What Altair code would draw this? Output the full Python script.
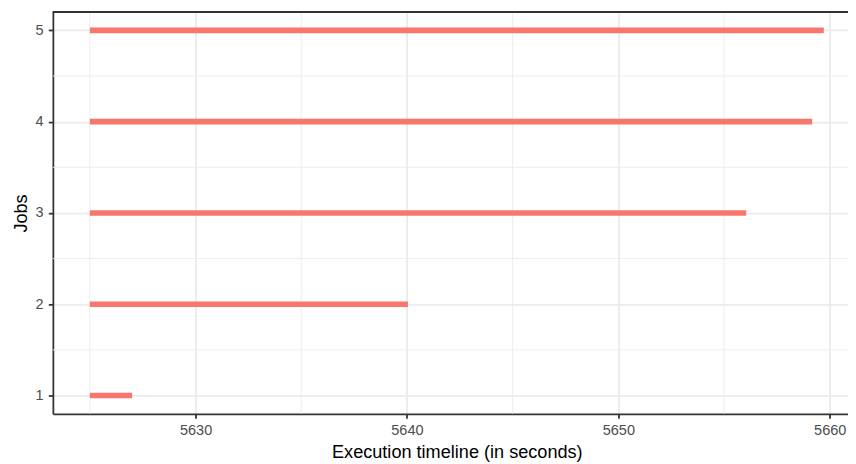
import altair as alt
import pandas as pd

# ---- data ----
jobs = [1, 2, 3, 4, 5]
start = [5625.0, 5625.0, 5625.0, 5625.0, 5625.0]
end = [5627.0, 5640.05, 5656.05, 5659.17, 5659.72]

x_ticks = [5630, 5640, 5650, 5660]
x_minor = [5625, 5635, 5645, 5655]
y_ticks = [1, 2, 3, 4, 5]
y_minor = [1.5, 2.5, 3.5, 4.5]

XDOM = [5623.25, 5661.47]
YDOM = [0.8, 5.2]
XRANGE = 815.6          # full panel width (panel runs past the picture's right edge)
LEFT = 45.3
W = 848 - LEFT          # visible part of the panel
H = 405.5

FONT = "Liberation Sans"
GRID = "#EBEBEB"
DARK = "#333333"

df = pd.DataFrame({"job": jobs, "start": start, "end": end})
dfx = pd.DataFrame({"v": x_minor})
dfy = pd.DataFrame({"v": y_minor})

xs = alt.Scale(domain=XDOM, nice=False, zero=False, range=[0, XRANGE])
ys = alt.Scale(domain=YDOM, nice=False, zero=False)

xaxis = alt.Axis(
    values=x_ticks, format="d", grid=True, gridColor=GRID, gridWidth=1.78,
    domain=True, domainColor=DARK, domainWidth=1.78,
    ticks=True, tickColor=DARK, tickWidth=1.78, tickSize=4.6,
    labelFont=FONT, labelFontSize=14.67, labelColor="#4D4D4D",
    labelBaseline="alphabetic", labelPadding=15.9, labelFlush=False,
    labelOverlap=False,
    title="Execution timeline (in seconds)", titleFont=FONT, titleFontSize=18.3,
    titleFontWeight="normal", titleColor="black", titleX=XRANGE / 2, titleY=43.8,
    titleBaseline="alphabetic", titleAlign="center",
)
yaxis = alt.Axis(
    values=y_ticks, format="d", grid=True, gridColor=GRID, gridWidth=1.78,
    domain=True, domainColor=DARK, domainWidth=1.78,
    ticks=True, tickColor=DARK, tickWidth=1.78, tickSize=4.6,
    labelFont=FONT, labelFontSize=14.67, labelColor="#4D4D4D",
    labelBaseline="middle", labelAlign="right", labelPadding=5.4,
    labelFlush=False, labelOverlap=False,
    title="Jobs", titleFont=FONT, titleFontSize=18.3, titleFontWeight="normal",
    titleColor="black", titleAngle=270, titleX=-26.6, titleY=H / 2,
    titleBaseline="alphabetic", titleAlign="center",
)

minor_x = alt.Chart(dfx).mark_rule(color=GRID, strokeWidth=0.89).encode(
    x=alt.X("v:Q", scale=xs, axis=xaxis)
)
minor_y = alt.Chart(dfy).mark_rule(color=GRID, strokeWidth=0.89).encode(
    y=alt.Y("v:Q", scale=ys, axis=yaxis)
)
bars = alt.Chart(df).mark_rule(color="#F8766D", strokeWidth=5.7, strokeCap="butt").encode(
    x=alt.X("start:Q", scale=xs, axis=xaxis),
    x2="end:Q",
    y=alt.Y("job:Q", scale=ys, axis=yaxis),
)
top_border = alt.Chart(df).mark_rule(color=DARK, strokeWidth=1.78).encode(
    y=alt.value(0)
)

chart = (
    alt.layer(minor_x, minor_y, bars, top_border)
    .properties(
        width=W, height=H,
        autosize=alt.AutoSizeParams(type="none"),
        padding={"left": LEFT, "top": 2, "right": 0, "bottom": 48.5},
        background="white",
    )
    .configure_view(stroke=None)
)

chart.save("out.html", embed_options={"renderer": "svg", "actions": False})
